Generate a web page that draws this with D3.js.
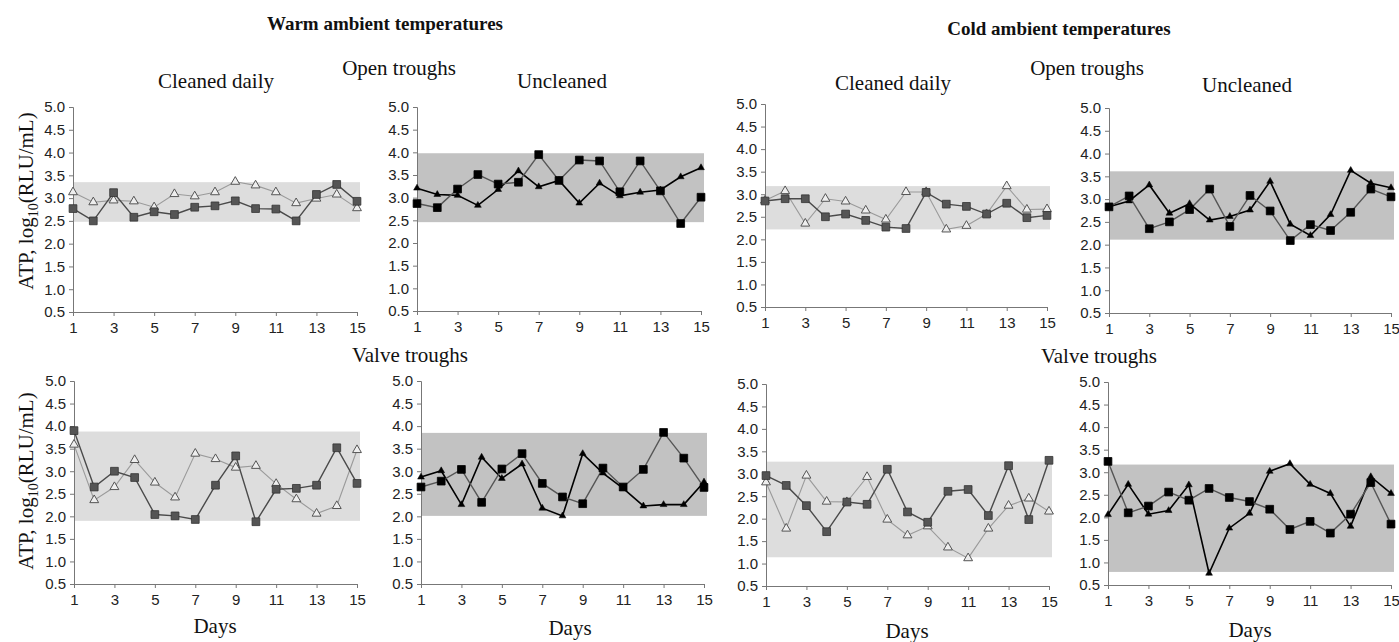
<!DOCTYPE html>
<html>
  <head>
    <meta charset="utf-8">
    <script src="https://d3js.org/d3.v7.min.js"></script>
    <style>
      body { margin: 0; background: #fff; }
      .tick text { font-family: "Liberation Sans", Arial, sans-serif; font-size: 15px; fill: #222; }
      .domain, .tick line { stroke: #777; }
      .serif { font-family: "Liberation Serif", "Times New Roman", serif; fill: #111; }
    </style>
  </head>
  <body>
    <div id="plot"></div>
    <script>

    // days on the x axis
    const days = [1, 2, 3, 4, 5, 6, 7, 8, 9, 10, 11, 12, 13, 14, 15];
    const xTicks = [1, 3, 5, 7, 9, 11, 13, 15];
    const yTicks = [0.5, 1.0, 1.5, 2.0, 2.5, 3.0, 3.5, 4.0, 4.5, 5.0];

    // warm, open troughs
    const warmOpenCleanedSq  = [2.77, 2.50, 3.12, 2.58, 2.70, 2.64, 2.80, 2.83, 2.94, 2.77, 2.76, 2.50, 3.08, 3.30, 2.93];
    const warmOpenCleanedTri = [3.13, 2.91, 2.95, 2.93, 2.80, 3.09, 3.04, 3.13, 3.36, 3.28, 3.13, 2.89, 2.99, 3.08, 2.78];
    const warmOpenUncleanSq  = [2.87, 2.78, 3.19, 3.51, 3.30, 3.34, 3.95, 3.38, 3.83, 3.81, 3.13, 3.81, 3.15, 2.43, 3.01];
    const warmOpenUncleanTri = [3.21, 3.07, 3.05, 2.83, 3.18, 3.59, 3.24, 3.38, 2.88, 3.32, 3.04, 3.12, 3.17, 3.46, 3.66];
    // cold, open troughs
    const coldOpenCleanedSq  = [2.85, 2.90, 2.90, 2.50, 2.56, 2.42, 2.27, 2.24, 3.04, 2.78, 2.73, 2.56, 2.80, 2.48, 2.53];
    const coldOpenCleanedTri = [2.86, 3.07, 2.35, 2.90, 2.84, 2.64, 2.44, 3.05, 3.05, 2.22, 2.30, 2.56, 3.18, 2.66, 2.67];
    const coldOpenUncleanSq  = [2.83, 3.07, 2.35, 2.50, 2.77, 3.22, 2.40, 3.08, 2.74, 2.09, 2.44, 2.31, 2.71, 3.22, 3.05];
    const coldOpenUncleanTri = [2.83, 2.96, 3.31, 2.69, 2.90, 2.54, 2.62, 2.76, 3.39, 2.45, 2.20, 2.66, 3.63, 3.35, 3.25];
    // warm, valve troughs
    const warmValveCleanedSq  = [3.90, 2.65, 3.00, 2.86, 2.04, 2.01, 1.93, 2.69, 3.34, 1.88, 2.60, 2.62, 2.69, 3.52, 2.73];
    const warmValveCleanedTri = [3.59, 2.36, 2.65, 3.25, 2.75, 2.42, 3.39, 3.27, 3.08, 3.12, 2.72, 2.38, 2.06, 2.23, 3.47];
    const warmValveUncleanSq  = [2.65, 2.78, 3.04, 2.31, 3.05, 3.39, 2.73, 2.43, 2.28, 3.07, 2.65, 3.04, 3.86, 3.29, 2.64];
    const warmValveUncleanTri = [2.87, 3.01, 2.26, 3.31, 2.84, 3.16, 2.18, 2.01, 3.39, 2.96, 2.62, 2.23, 2.26, 2.26, 2.76];
    // cold, valve troughs
    const coldValveCleanedSq  = [2.96, 2.74, 2.29, 1.71, 2.37, 2.32, 3.10, 2.15, 1.92, 2.61, 2.65, 2.07, 3.18, 1.98, 3.30];
    const coldValveCleanedTri = [2.81, 1.78, 2.96, 2.38, 2.37, 2.93, 1.98, 1.63, 1.83, 1.36, 1.12, 1.78, 2.29, 2.45, 2.16];
    const coldValveUncleanSq  = [3.24, 2.10, 2.25, 2.56, 2.38, 2.64, 2.44, 2.35, 2.18, 1.73, 1.91, 1.65, 2.07, 2.77, 1.85];
    const coldValveUncleanTri = [2.06, 2.73, 2.07, 2.15, 2.72, 0.76, 1.76, 2.09, 3.02, 3.19, 2.73, 2.53, 1.80, 2.90, 2.53];

    // shaded ranges, one per panel
    const bandLow  = [2.48, 2.46, 2.22, 2.11, 1.90, 2.01, 1.14, 0.79];
    const bandHigh = [3.35, 3.98, 3.18, 3.61, 3.88, 3.85, 3.27, 3.17];

    const svg = d3.select("#plot")
      .append("svg")
        .attr("width", 1399)
        .attr("height", 642);

    // panel boxes (pixel positions) and which series go in them
    const panels = [
      { x0: 73,   x1: 357,  y0: 107, y1: 312, sq: warmOpenCleanedSq,   tri: warmOpenCleanedTri,   cleaned: true },
      { x0: 417,  x1: 701,  y0: 107, y1: 311, sq: warmOpenUncleanSq,   tri: warmOpenUncleanTri,   cleaned: false },
      { x0: 765,  x1: 1047, y0: 104, y1: 307, sq: coldOpenCleanedSq,   tri: coldOpenCleanedTri,   cleaned: true },
      { x0: 1109, x1: 1391, y0: 108, y1: 313, sq: coldOpenUncleanSq,   tri: coldOpenUncleanTri,   cleaned: false },
      { x0: 74,   x1: 357,  y0: 381, y1: 584, sq: warmValveCleanedSq,  tri: warmValveCleanedTri,  cleaned: true },
      { x0: 421,  x1: 704,  y0: 381, y1: 584, sq: warmValveUncleanSq,  tri: warmValveUncleanTri,  cleaned: false },
      { x0: 766,  x1: 1049, y0: 384, y1: 586, sq: coldValveCleanedSq,  tri: coldValveCleanedTri,  cleaned: true },
      { x0: 1108, x1: 1391, y0: 382, y1: 585, sq: coldValveUncleanSq,  tri: coldValveUncleanTri,  cleaned: false }
    ];

    panels.forEach(function(p, i) {
      const x = d3.scaleLinear().domain([1, 15]).range([p.x0, p.x1]);
      const y = d3.scaleLinear().domain([0.5, 5.0]).range([p.y1, p.y0]);
      const g = svg.append("g");

      // shaded band
      g.append("rect")
        .attr("x", x(1))
        .attr("width", x(15) - x(1) + 3)
        .attr("y", y(bandHigh[i]))
        .attr("height", y(bandLow[i]) - y(bandHigh[i]))
        .attr("fill", p.cleaned ? "#dddddd" : "#c2c2c2");

      // axes
      g.append("g")
        .attr("transform", "translate(" + p.x0 + ",0)")
        .call(d3.axisLeft(y).tickValues(yTicks).tickSize(4).tickPadding(4).tickFormat(d3.format(".1f")));
      g.append("g")
        .attr("transform", "translate(0," + p.y1 + ")")
        .call(d3.axisBottom(x).tickValues(xTicks).tickSize(4).tickPadding(6).tickFormat(d3.format("d")));

      const line = d3.line()
        .x(function(d, j) { return x(days[j]); })
        .y(function(d) { return y(d); });

      // triangle series
      g.append("path")
        .datum(p.tri)
        .attr("d", line)
        .attr("fill", "none")
        .attr("stroke", p.cleaned ? "#9a9a9a" : "#000")
        .attr("stroke-width", p.cleaned ? 1.1 : 1.6);

      // square series
      g.append("path")
        .datum(p.sq)
        .attr("d", line)
        .attr("fill", "none")
        .attr("stroke", p.cleaned ? "#4a4a4a" : "#555")
        .attr("stroke-width", 1.4);

      g.selectAll(".tri")
        .data(p.tri)
        .enter()
        .append("path")
          .attr("transform", function(d, j) { return "translate(" + x(days[j]) + "," + y(d) + ")"; })
          .attr("d", d3.symbol().type(d3.symbolTriangle).size(p.cleaned ? 34 : 20))
          .attr("fill", p.cleaned ? "#eeeeee" : "#000")
          .attr("stroke", p.cleaned ? "#555" : "#000")
          .attr("stroke-width", p.cleaned ? 1 : 0.5);

      g.selectAll(".sq")
        .data(p.sq)
        .enter()
        .append("path")
          .attr("transform", function(d, j) { return "translate(" + x(days[j]) + "," + y(d) + ")"; })
          .attr("d", d3.symbol().type(d3.symbolSquare).size(60))
          .attr("fill", p.cleaned ? "#555" : "#000")
          .attr("stroke", p.cleaned ? "#333" : "#000")
          .attr("stroke-width", 0.8);
    });

    // titles and labels
    function label(txt, x, y, size, weight) {
      return svg.append("text")
        .attr("class", "serif")
        .attr("x", x)
        .attr("y", y)
        .attr("text-anchor", "middle")
        .style("font-size", size + "px")
        .style("font-weight", weight || "normal")
        .text(txt);
    }

    label("Warm ambient temperatures", 385, 30, 19, "bold");
    label("Cold ambient temperatures", 1059, 35, 19, "bold");
    label("Cleaned daily", 216, 88, 21);
    label("Open troughs", 399, 75, 21);
    label("Uncleaned", 562, 88, 21);
    label("Cleaned daily", 893, 90, 21);
    label("Open troughs", 1087, 75, 21);
    label("Uncleaned", 1247, 92, 21);
    label("Valve troughs", 410, 362, 21);
    label("Valve troughs", 1099, 363, 21);
    label("Days", 215, 633, 21);
    label("Days", 570, 635, 21);
    label("Days", 907, 638, 21);
    label("Days", 1250, 637, 21);

    // y labels
    [201, 481].forEach(function(cy) {
      const t = svg.append("text")
        .attr("class", "serif")
        .attr("transform", "translate(33," + cy + ") rotate(-90)")
        .attr("text-anchor", "middle")
        .style("font-size", "21px");
      t.append("tspan").text("ATP, log");
      t.append("tspan").text("10").attr("dy", 5).style("font-size", "14px");
      t.append("tspan").text("(RLU/mL)").attr("dy", -5);
    });

    </script>
  </body>
</html>
